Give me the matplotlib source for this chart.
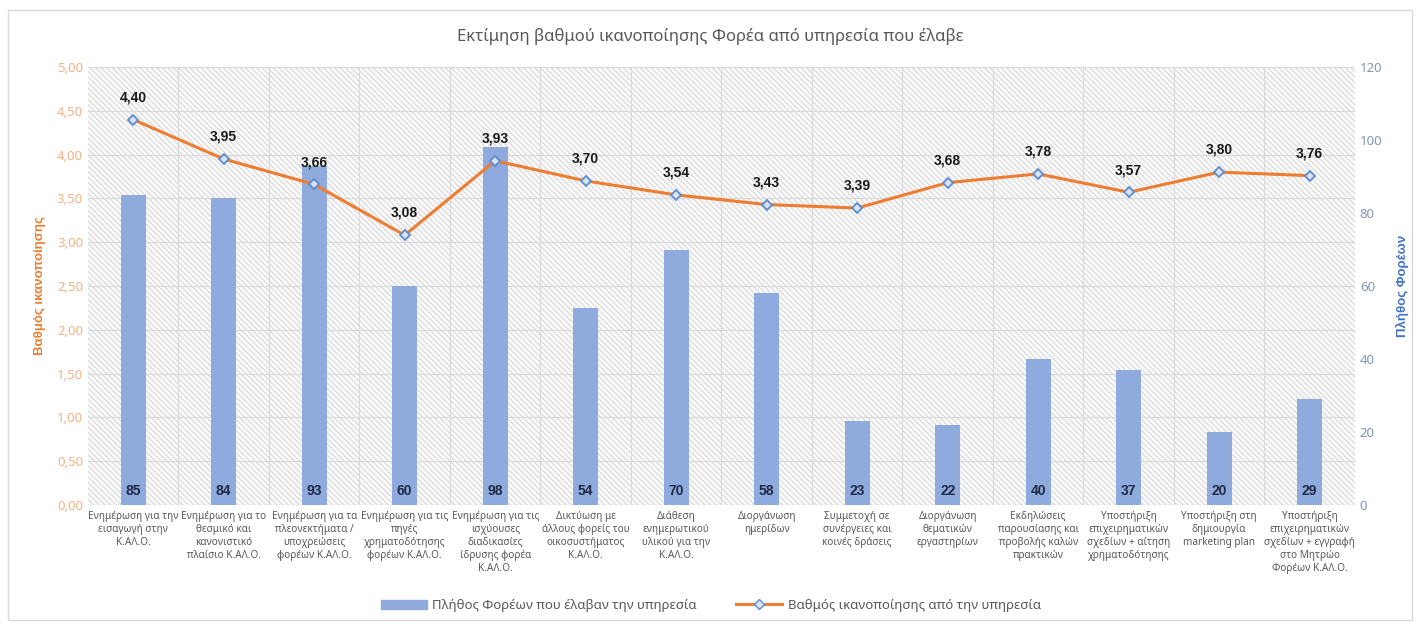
import matplotlib
matplotlib.use("Agg")
import matplotlib.pyplot as plt
import matplotlib.patches as mpatches
from matplotlib.ticker import FuncFormatter, MultipleLocator
from matplotlib.lines import Line2D
import numpy as np

plt.rcParams['font.family'] = ['Noto Sans', 'DejaVu Sans']
plt.rcParams['hatch.linewidth'] = 0.7
plt.rcParams['hatch.color'] = '#d4d4d4'
BOLD = ['Liberation Sans', 'DejaVu Sans']

title = "Εκτίμηση βαθμού ικανοποίησης Φορέα από υπηρεσία που έλαβε"

categories = [
    "Ενημέρωση για την\nεισαγωγή στην\nΚ.ΑΛ.Ο.",
    "Ενημέρωση για το\nθεσμικό και\nκανονιστικό\nπλαίσιο Κ.ΑΛ.Ο.",
    "Ενημέρωση για τα\nπλεονεκτήματα /\nυποχρεώσεις\nφορέων Κ.ΑΛ.Ο.",
    "Ενημέρωση για τις\nπηγές\nχρηματοδότησης\nφορέων Κ.ΑΛ.Ο.",
    "Ενημέρωση για τις\nισχύουσες\nδιαδικασίες\nίδρυσης φορέα\nΚ.ΑΛ.Ο.",
    "Δικτύωση με\nάλλους φορείς του\nοικοσυστήματος\nΚ.ΑΛ.Ο.",
    "Διάθεση\nενημερωτικού\nυλικού για την\nΚ.ΑΛ.Ο.",
    "Διοργάνωση\nημερίδων",
    "Συμμετοχή σε\nσυνέργειες και\nκοινές δράσεις",
    "Διοργάνωση\nθεματικών\nεργαστηρίων",
    "Εκδηλώσεις\nπαρουσίασης και\nπροβολής καλών\nπρακτικών",
    "Υποστήριξη\nεπιχειρηματικών\nσχεδίων + αίτηση\nχρηματοδότησης",
    "Υποστήριξη στη\nδημιουργία\nmarketing plan",
    "Υποστήριξη\nεπιχειρηματικών\nσχεδίων + εγγραφή\nστο Μητρώο\nΦορέων Κ.ΑΛ.Ο.",
]
counts = [85, 84, 93, 60, 98, 54, 70, 58, 23, 22, 40, 37, 20, 29]
scores = [4.40, 3.95, 3.66, 3.08, 3.93, 3.70, 3.54, 3.43, 3.39, 3.68, 3.78, 3.57, 3.80, 3.76]

bar_label = "Πλήθος Φορέων που έλαβαν την υπηρεσία"
line_label = "Βαθμός ικανοποίησης από την υπηρεσία"

bar_color = '#8faadc'
line_color = '#ed7d31'
left_tick_color = '#f4b183'
right_tick_color = '#8497b0'

fig = plt.figure(figsize=(14.21, 6.24), dpi=100)
fig.patches.append(mpatches.Rectangle((8/1421, 4/624), 1404/1421, 610/624,
                                      transform=fig.transFigure, fill=False,
                                      edgecolor='#d9d9d9', linewidth=1))

ax = fig.add_axes([0.0619, 0.1907, 0.8916, 0.7019])
ax2 = ax.twinx()
ax.set_zorder(ax2.get_zorder() + 1)
ax.patch.set_visible(False)

x = np.arange(len(categories))

# hatched background
ax2.add_patch(mpatches.Rectangle((0, 0), 1, 1, transform=ax2.transAxes,
                                 facecolor='#fafafa', edgecolor='#d4d4d4',
                                 hatch='\\\\\\\\\\\\', linewidth=0, zorder=0))

ax2.bar(x, counts, width=0.28, color=bar_color, zorder=2, label=bar_label)
for xi, c in zip(x, counts):
    ax2.text(xi, 1.8, str(c), ha='center', va='bottom', fontsize=10,
             fontweight='bold', family=BOLD, color='#1f2a44', zorder=3)

ax.plot(x, scores, color=line_color, linewidth=2.2, marker='D', markersize=5.5,
        markerfacecolor='#dae3f3', markeredgecolor='#5b8bd0', markeredgewidth=1.3,
        zorder=4)
for xi, s in zip(x, scores):
    ax.annotate(f"{s:.2f}".replace('.', ','), (xi, s), xytext=(0, 11),
                textcoords='offset points', ha='center', va='bottom',
                fontsize=10, fontweight='bold', family=BOLD, color='#1a1a1a')

ax.set_xlim(-0.5, len(categories) - 0.5)
ax.set_ylim(0, 5)
ax2.set_ylim(0, 120)
ax.yaxis.set_major_locator(MultipleLocator(0.5))
ax2.yaxis.set_major_locator(MultipleLocator(20))
ax.yaxis.set_major_formatter(FuncFormatter(lambda v, p: f"{v:.2f}".replace('.', ',')))

# grid
for yv in np.arange(0.5, 5.01, 0.5):
    ax2.axhline(yv * 24, color='#d9d9d9', linewidth=0.8, zorder=1)
for b in np.arange(0.5, len(categories) - 1, 1):
    ax2.axvline(b, color='#d9d9d9', linewidth=0.8, zorder=1)
ax2.axhline(0, color='#d9d9d9', linewidth=1, zorder=1)

ax.set_xticks(x)
ax.set_xticklabels(categories, fontsize=7.2, color='#595959', linespacing=1.25)
ax.tick_params(axis='x', length=0, pad=4)
ax.tick_params(axis='y', length=0, labelsize=9.5, labelcolor=left_tick_color)
ax2.tick_params(axis='y', length=0, labelsize=9.5, labelcolor=right_tick_color)

for a in (ax, ax2):
    for s in a.spines.values():
        s.set_visible(False)

ax.set_ylabel("Βαθμός ικανοποίησης", color=line_color, fontsize=9.5,
              fontweight='bold', family=BOLD, labelpad=8)
ax2.set_ylabel("Πλήθος Φορέων", color='#4472c4', fontsize=9.5,
               fontweight='bold', family=BOLD, labelpad=10)

fig.text(0.5, 0.942, title, ha='center', va='center', fontsize=12, color='#595959')

handles = [mpatches.Patch(color=bar_color, label=bar_label),
           Line2D([0], [0], color=line_color, linewidth=2.2, marker='D', markersize=5,
                  markerfacecolor='#dae3f3', markeredgecolor='#5b8bd0', label=line_label)]
fig.legend(handles=handles, loc='center', bbox_to_anchor=(0.5, 0.03), ncol=2,
           frameon=False, fontsize=9.5, labelcolor='#595959', columnspacing=3,
           handlelength=3.5, handletextpad=0.4)

fig.savefig("out.png", dpi=100)
